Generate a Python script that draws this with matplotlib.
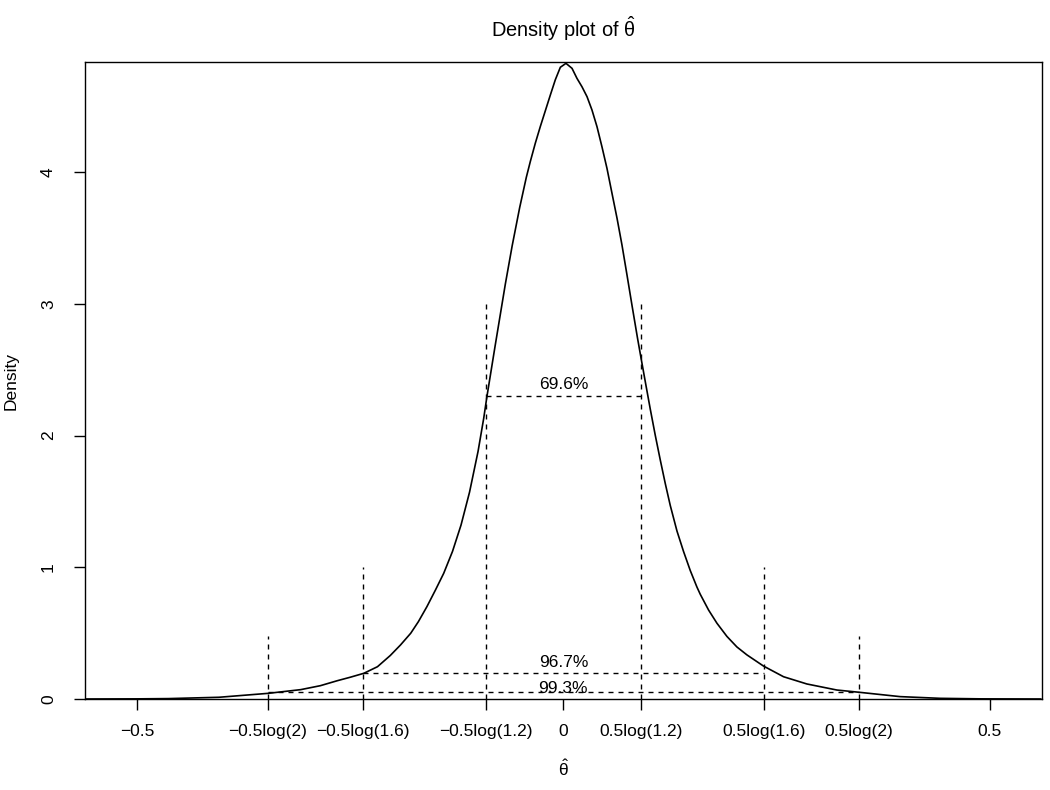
import numpy as np
import matplotlib
matplotlib.use("Agg")
import matplotlib.pyplot as plt

# density curve
theta = [-0.560, -0.500, -0.463, -0.404, -0.346, -0.308, -0.285, -0.265, -0.250, -0.234,
         -0.218, -0.203, -0.191, -0.179, -0.170, -0.160, -0.150, -0.1403, -0.130, -0.120,
         -0.110, -0.100, -0.0934, -0.0895, -0.080, -0.068, -0.060, -0.0512, -0.0434,
         -0.0387, -0.0328, -0.0270, -0.0211, -0.0152, -0.0094, -0.0035, 0.0031,
         0.0102, 0.0160, 0.0219, 0.0278, 0.0336, 0.0395, 0.0453, 0.0512, 0.0571, 0.0630,
         0.0688, 0.0747, 0.0805, 0.0870, 0.0911, 0.0961, 0.1020, 0.1079, 0.1137, 0.1196,
         0.1254, 0.1333, 0.1410, 0.1489, 0.1567, 0.1606, 0.1704, 0.1802, 0.1919, 0.2036,
         0.2153, 0.2348, 0.2583, 0.2857, 0.3209, 0.347, 0.395, 0.442, 0.490, 0.560]
density = [0.000, 0.001, 0.003, 0.013, 0.043, 0.071, 0.101, 0.139, 0.165, 0.195,
           0.245, 0.330, 0.410, 0.499, 0.587, 0.701, 0.827, 0.954, 1.120, 1.320,
           1.570, 1.880, 2.130, 2.300, 2.680, 3.150, 3.440, 3.730, 3.960,
           4.080, 4.220, 4.345, 4.465, 4.585, 4.700, 4.795, 4.825,
           4.787, 4.711, 4.647, 4.572, 4.471, 4.344, 4.192, 4.028, 3.838, 3.649,
           3.446, 3.218, 2.990, 2.740, 2.590, 2.410, 2.200, 2.000, 1.815, 1.635,
           1.470, 1.275, 1.120, 0.975, 0.850, 0.795, 0.675, 0.575, 0.475, 0.395,
           0.335, 0.250, 0.169, 0.114, 0.068, 0.051, 0.018, 0.005, 0.001, 0.000]

# reference bands: log ratios, vertical line heights, horizontal line level, coverage
ratios = [1.2, 1.6, 2.0]
vline_tops = [3.0, 1.0, 0.48]
hline_levels = [2.3, 0.2, 0.05]
coverage = ["69.6%", "96.7%", "99.3%"]
label_y = [2.35, 0.245, 0.045]

tick_pos = [-0.5, -0.5 * np.log(2), -0.5 * np.log(1.6), -0.5 * np.log(1.2), 0,
            0.5 * np.log(1.2), 0.5 * np.log(1.6), 0.5 * np.log(2), 0.5]
tick_labels = ["\u22120.5", "\u22120.5log(2)", "\u22120.5log(1.6)", "\u22120.5log(1.2)", "0",
               "0.5log(1.2)", "0.5log(1.6)", "0.5log(2)", "0.5"]

plt.rcParams["font.family"] = ["Liberation Sans", "DejaVu Sans"]
plt.rcParams["mathtext.fontset"] = "custom"
plt.rcParams["mathtext.rm"] = "Liberation Sans"
plt.rcParams["mathtext.it"] = "Liberation Sans"

fig = plt.figure(figsize=(10.5, 7.9), dpi=100)
ax = fig.add_axes([0.081, 0.1152, 0.9114, 0.8063])

ax.plot(theta, density, color="black", lw=1.2, solid_joinstyle="round")

dash = (0, (3.6, 3.6))
for r, top, lvl, txt, ty in zip(ratios, vline_tops, hline_levels, coverage, label_y):
    h = 0.5 * np.log(r)
    ax.plot([-h, -h], [0, top], color="black", lw=1, linestyle=dash)
    ax.plot([h, h], [0, top], color="black", lw=1, linestyle=dash)
    ax.plot([-h, h], [lvl, lvl], color="black", lw=1, linestyle=dash)
    ax.text(0, ty, txt, ha="center", va="baseline", fontsize=12.5)

ax.set_xlim(-0.561, 0.5615)
ax.set_ylim(0, 4.835)
ax.set_xticks(tick_pos)
ax.set_xticklabels(tick_labels)
ax.set_yticks([0, 1, 2, 3, 4])
ax.set_yticklabels(["0", "1", "2", "3", "4"], rotation=90, va="center")
ax.tick_params(axis="both", length=8, width=1, labelsize=12.5, direction="out")
ax.tick_params(axis="x", pad=10)
ax.tick_params(axis="y", pad=13)
for s in ax.spines.values():
    s.set_linewidth(1)

ax.set_title(r"Density plot of $\mathrm{\hat{\theta}}$", fontsize=14.4, pad=18)
ax.set_xlabel(r"$\mathrm{\hat{\theta}}$", fontsize=12.5, labelpad=14)
ax.set_ylabel("Density", fontsize=12.5, labelpad=16)

fig.savefig("out.png", dpi=100)
